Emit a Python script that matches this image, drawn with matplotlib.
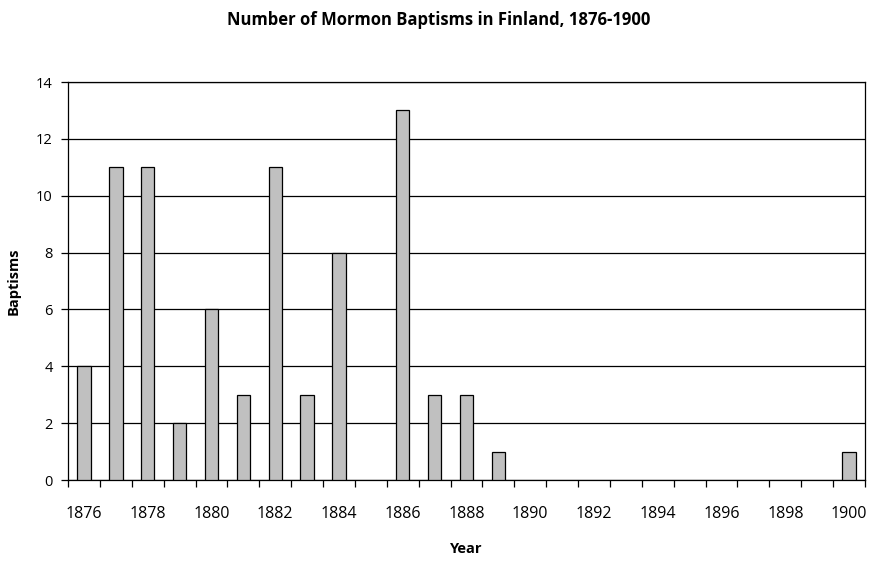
import matplotlib
matplotlib.use("Agg")
from matplotlib import pyplot as plt
from matplotlib.ticker import FixedLocator, NullFormatter

years = list(range(1876, 1901))
baptisms = [4, 11, 11, 2, 6, 3, 11, 3, 8, 0, 13, 3, 3, 1,
            0, 0, 0, 0, 0, 0, 0, 0, 0, 0, 1]
y_ticks = [0, 2, 4, 6, 8, 10, 12, 14]

plt.rcParams['font.family'] = ['Open Sans', 'DejaVu Sans']
plt.rcParams['font.size'] = 10

fig = plt.figure(figsize=(8.78, 5.63), dpi=100)
ax = fig.add_axes([68 / 878, 1 - 480 / 563, (865 - 68) / 878, (480 - 82) / 563])

pos = list(range(len(years)))
# empty years get no outline so they stay invisible, as in the original
edge_w = [0.9 if v > 0 else 0 for v in baptisms]
ax.bar(pos, baptisms, width=0.42, color='#c0c0c0', edgecolor='black',
       linewidth=edge_w, zorder=3)

ax.set_xlim(-0.5, len(years) - 0.5)
ax.set_ylim(0, 14)
ax.set_yticks(y_ticks)
ax.set_yticklabels([str(v) for v in y_ticks], fontsize=10.5)
ax.grid(axis='y', color='black', linewidth=0.9, zorder=1)

# labels at category centres, tick marks at category boundaries
ax.set_xticks(pos[::2])
ax.set_xticklabels([str(y) for y in years[::2]], fontsize=11.5)
ax.tick_params(axis='x', which='major', length=0, pad=19)
ax.xaxis.set_minor_locator(FixedLocator([p - 0.5 for p in pos] + [len(years) - 0.5]))
ax.xaxis.set_minor_formatter(NullFormatter())
ax.tick_params(axis='x', which='minor', length=5, width=0.9, direction='out')
ax.tick_params(axis='y', length=5, width=0.9, direction='out', pad=6)

for s in ax.spines.values():
    s.set_linewidth(0.9)

ax.set_xlabel('Year', fontsize=10.5, fontweight='bold', labelpad=14)
ax.set_ylabel('Baptisms', fontsize=10.5, fontweight='bold', labelpad=11)
fig.suptitle('Number of Mormon Baptisms in Finland, 1876-1900', fontsize=12,
             fontweight='bold', y=1 - 11 / 563, va='top')

fig.savefig('out.png', dpi=100)
